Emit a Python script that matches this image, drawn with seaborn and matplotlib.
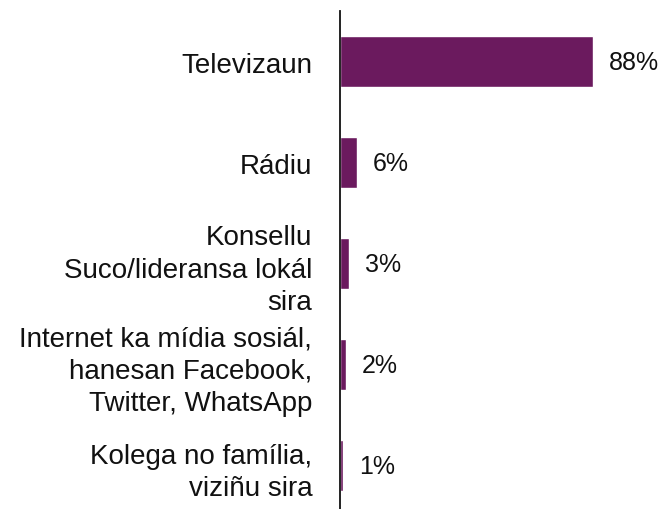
import pandas as pd
import numpy as np
import matplotlib.pyplot as plt
import seaborn as sns

# --- data ---
categories = [
    'Televizaun',
    'Rádiu',
    'Konsellu\nSuco/lideransa lokál\nsira',
    'Internet ka mídia sosiál,\nhanesan Facebook,\nTwitter, WhatsApp',
    'Kolega no família,\nviziñu sira',
]
values = [88, 6, 3, 2, 1]
value_labels = ['88%', '6%', '3%', '2%', '1%']

df = pd.DataFrame({'Source': categories, 'Pct': values})

sns.set_style('white')
plt.rcParams['font.family'] = ['Liberation Sans', 'DejaVu Sans']

fig = plt.figure(figsize=(6.64, 5.10), dpi=100)
ax = fig.add_axes([340 / 664, 0.0, 1 - 340 / 664, 1 - 12 / 510])

sns.barplot(data=df, x='Pct', y='Source', color='#6B1A5E', width=0.5,
            saturation=1, ax=ax)

ax.set_xlim(0, 112.7)
ax.set_ylim(4.43, -0.5)
ax.set_xlabel('')
ax.set_ylabel('')
ax.set_xticks([])
ax.tick_params(axis='y', length=0, pad=20, labelsize=20)
for lab in ax.get_yticklabels():
    lab.set_linespacing(1.32)
    lab.set_color('#111111')

for side in ['top', 'right', 'bottom']:
    ax.spines[side].set_visible(False)
ax.spines['left'].set_color('#111111')
ax.spines['left'].set_linewidth(1.3)

for i, v in enumerate(values):
    ax.annotate(value_labels[i], (v, i), xytext=(11.5, 0), textcoords='offset points',
                va='center', ha='left', fontsize=18, color='#111111')

fig.savefig('out.png', dpi=100)
